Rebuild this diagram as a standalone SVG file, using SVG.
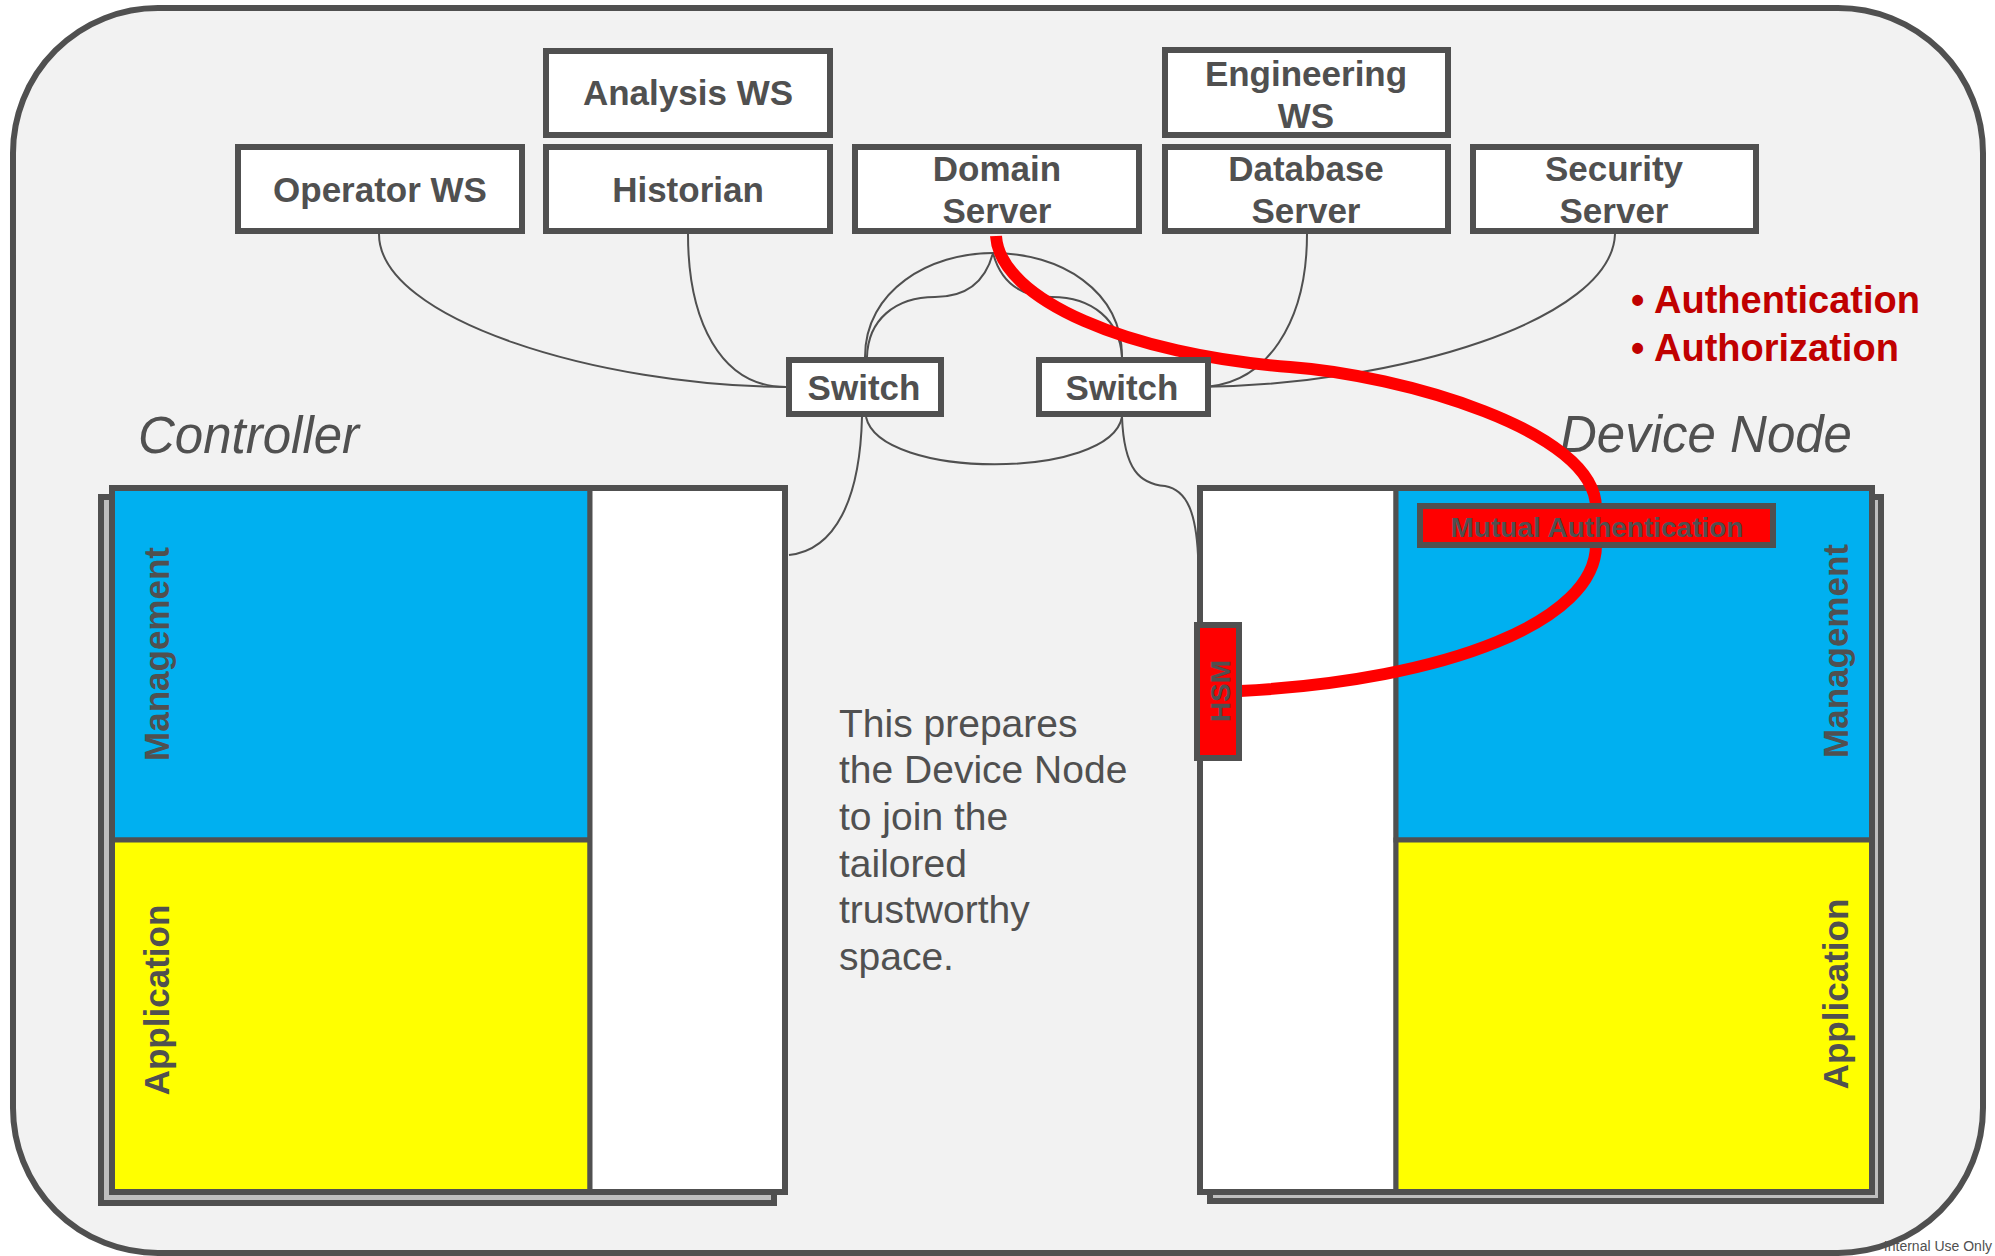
<svg xmlns="http://www.w3.org/2000/svg" width="1995" height="1256" viewBox="0 0 1995 1256">
  <defs>
    <style>
      .frame { fill: #f2f2f2; stroke: #505050; stroke-width: 6; }
      .box { fill: #ffffff; stroke: #505050; stroke-width: 6; }
      .shadow { fill: #bfbfbf; stroke: #505050; stroke-width: 6; }
      .mgmt { fill: #00b0f0; stroke: #505050; stroke-width: 5; }
      .app { fill: #ffff00; stroke: #505050; stroke-width: 5; }
      .panel { fill: #ffffff; stroke: #505050; stroke-width: 5; }
      .alert { fill: #ff0000; stroke: #505050; stroke-width: 6; }
      .lbl { font-family: "Liberation Sans", Arial, sans-serif; font-weight: bold; font-size: 35px; fill: #505050; text-anchor: middle; }
      .title { font-family: "Liberation Sans", Arial, sans-serif; font-style: italic; font-size: 51px; fill: #505050; }
      .note { font-family: "Liberation Sans", Arial, sans-serif; font-size: 39px; fill: #505050; }
      .bullet { font-family: "Liberation Sans", Arial, sans-serif; font-weight: bold; font-size: 38px; fill: #c00000; }
      .wire { fill: none; stroke: #505050; stroke-width: 2; }
      .secure { fill: none; stroke: #ff0000; stroke-width: 12; }
    </style>
  </defs>

  <!-- outer frame -->
  <rect class="frame" x="13" y="8" width="1970" height="1245" rx="145" ry="145"/>

  <!-- controller block -->
  <g id="controller">
    <rect class="shadow" x="101" y="497" width="673" height="706"/>
    <rect class="mgmt" x="112" y="488" width="478" height="352"/>
    <rect class="app" x="112" y="840" width="478" height="352"/>
    <rect class="panel" x="590" y="488" width="195" height="704"/>
    <rect x="112" y="488" width="673" height="704" fill="none" stroke="#505050" stroke-width="6"/>
    <text class="lbl" transform="translate(169,654) rotate(-90)">Management</text>
    <text class="lbl" transform="translate(169,1000) rotate(-90)">Application</text>
  </g>
  <text id="controller-title" class="title" x="138" y="453">Controller</text>

  <!-- device node block -->
  <g id="device-node">
    <rect class="shadow" x="1210" y="497" width="671" height="704"/>
    <rect class="panel" x="1200" y="488" width="196" height="704"/>
    <rect class="mgmt" x="1396" y="488" width="476" height="352"/>
    <rect class="app" x="1396" y="840" width="476" height="352"/>
    <rect x="1200" y="488" width="672" height="704" fill="none" stroke="#505050" stroke-width="6"/>
    <text class="lbl" transform="translate(1848,651) rotate(-90)">Management</text>
    <text class="lbl" transform="translate(1848,994) rotate(-90)">Application</text>
  </g>
  <text id="device-title" class="title" x="1560" y="452">Device Node</text>

  <!-- network connectors -->
  <g id="connectors">
    <path class="wire" d="M379,234 C379,320 600,386 786,387"/>
    <path class="wire" d="M688,234 C688,320 720,387 786,387"/>
    <path class="wire" d="M865,357 C865,290 930,253 993,253 C1060,253 1122,290 1122,357"/>
    <path class="wire" d="M993,253 C985,283 965,297 935,297 C895,297 868,320 867,357"/>
    <path class="wire" d="M993,253 C1001,283 1022,297 1052,297 C1092,297 1120,320 1122,357"/>
    <path class="wire" d="M866,417 C880,480 1110,480 1122,417"/>
    <path class="wire" d="M862,417 C860,500 835,550 789,555"/>
    <path class="wire" d="M1122,417 C1124,470 1140,484 1165,486 C1188,490 1196,515 1198,555"/>
    <path class="wire" d="M1307,234 C1307,320 1268,387 1198,387"/>
    <path class="wire" d="M1615,234 C1612,320 1400,385 1198,387"/>
    <path class="secure" d="M996,236 C1000,300 1130,355 1290,367 C1400,375 1596,430 1596,508"/>
    <path class="secure" d="M1596,545 C1596,620 1450,680 1240,691"/>
  </g>

  <!-- servers and workstations -->
  <g id="analysis-ws">
    <rect class="box" x="546" y="51" width="284" height="84"/>
    <text class="lbl" x="688" y="105">Analysis WS</text>
  </g>
  <g id="operator-ws">
    <rect class="box" x="238" y="147" width="284" height="84"/>
    <text class="lbl" x="380" y="202">Operator WS</text>
  </g>
  <g id="historian">
    <rect class="box" x="546" y="147" width="284" height="84"/>
    <text class="lbl" x="688" y="202">Historian</text>
  </g>
  <g id="domain-server">
    <rect class="box" x="855" y="147" width="284" height="84"/>
    <text class="lbl" x="997" y="181">Domain</text>
    <text class="lbl" x="997" y="223">Server</text>
  </g>
  <g id="engineering-ws">
    <rect class="box" x="1165" y="50" width="283" height="85"/>
    <text class="lbl" x="1306" y="86">Engineering</text>
    <text class="lbl" x="1306" y="128">WS</text>
  </g>
  <g id="database-server">
    <rect class="box" x="1165" y="147" width="283" height="84"/>
    <text class="lbl" x="1306" y="181">Database</text>
    <text class="lbl" x="1306" y="223">Server</text>
  </g>
  <g id="security-server">
    <rect class="box" x="1473" y="147" width="283" height="84"/>
    <text class="lbl" x="1614" y="181">Security</text>
    <text class="lbl" x="1614" y="223">Server</text>
  </g>

  <!-- switches -->
  <g id="switch-left">
    <rect class="box" x="789" y="360" width="152" height="54"/>
    <text class="lbl" x="864" y="400">Switch</text>
  </g>
  <g id="switch-right">
    <rect class="box" x="1039" y="360" width="169" height="54"/>
    <text class="lbl" x="1122" y="400">Switch</text>
  </g>

  <!-- security elements on the device node -->
  <g id="mutual-auth">
    <rect class="alert" x="1420" y="506" width="353" height="39"/>
    <text class="lbl" x="1597" y="537" style="font-size:28px">Mutual Authentication</text>
  </g>
  <g id="hsm">
    <rect class="alert" x="1197" y="625" width="42" height="133"/>
    <text class="lbl" transform="translate(1230,691) rotate(-90)" style="font-size:28px">HSM</text>
  </g>

  <!-- security services list -->
  <g id="services">
    <text class="bullet" x="1631" y="313">•</text>
    <text class="bullet" x="1654" y="313">Authentication</text>
    <text class="bullet" x="1631" y="361">•</text>
    <text class="bullet" x="1654" y="361">Authorization</text>
  </g>

  <!-- explanatory note -->
  <g id="note">
    <text class="note" x="839" y="737">This prepares</text>
    <text class="note" x="839" y="783">the Device Node</text>
    <text class="note" x="839" y="830">to join the</text>
    <text class="note" x="839" y="877">tailored</text>
    <text class="note" x="839" y="923">trustworthy</text>
    <text class="note" x="839" y="970">space.</text>
  </g>

  <!-- footer -->
  <text x="1992" y="1251" text-anchor="end" font-family="'Liberation Sans', Arial, sans-serif" font-size="14" fill="#505050">Internal Use Only</text>
</svg>
